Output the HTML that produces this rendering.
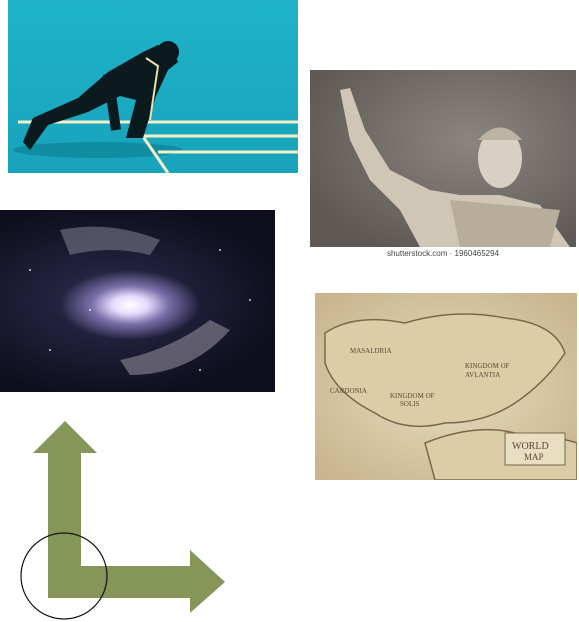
<!DOCTYPE html>
<html><head><meta charset="utf-8"><style>
html,body{margin:0;padding:0;background:#fff;width:579px;height:622px;overflow:hidden;position:relative;font-family:"Liberation Sans",sans-serif}
.abs{position:absolute}
</style></head><body>

<div class="abs" style="left:8px;top:0;width:290px;height:173px;background:linear-gradient(180deg,#1fb3c9,#17a3bb);overflow:hidden">
<svg width="290" height="173" viewBox="0 0 290 173">
<ellipse cx="90" cy="150" rx="85" ry="8" fill="#0c7d8f" opacity=".6"/>
<path d="M10 122 H290 M120 136 H290 M150 152 H290" stroke="#f4f1c8" stroke-width="3"/>
<path d="M125 122 L160 173" stroke="#f4f1c8" stroke-width="3"/>
<path d="M150 45 L165 48 L170 62 L160 70 L148 96 L135 138 L118 138 L128 100 L112 96 L80 112 L40 125 L22 150 L15 142 L25 118 L70 98 L100 72 L135 52 Z" fill="#0b1a1f"/>
<circle cx="160" cy="52" r="11" fill="#0b1a1f"/>
<path d="M100 74 L108 130" stroke="#0b1a1f" stroke-width="10"/>
<path d="M138 58 L150 66 L142 120" stroke="#e8e2a8" stroke-width="2" fill="none"/>
</svg></div>

<div class="abs" style="left:310px;top:70px;width:266px;height:177px;background:radial-gradient(ellipse at 60% 40%,#8b8580,#5e5954 80%);overflow:hidden">
<svg width="266" height="177" viewBox="0 0 266 177">
<path d="M30 20 L40 18 L55 60 L80 100 L120 120 L150 125 L190 125 L230 135 L260 177 L110 177 L90 140 L60 110 L40 70 Z" fill="#cfc6b6"/>
<ellipse cx="190" cy="88" rx="22" ry="30" fill="#d8d0c2"/>
<path d="M168 70 Q190 45 212 70" fill="#bdb3a2"/>
<path d="M140 130 L250 140 L240 177 L150 177 Z" fill="#b8ad9a"/>
</svg></div>
<div class="abs" style="left:310px;top:249px;width:266px;text-align:center;font-size:8px;color:#444">shutterstock.com · 1960465294</div>

<div class="abs" style="left:0;top:210px;width:275px;height:182px;background:radial-gradient(ellipse 70px 35px at 130px 95px,#fff 0%,#e6dcff 25%,#7a6fa8 55%,rgba(40,40,80,0) 100%),radial-gradient(ellipse at 40% 50%,#2d2c4f,#0e0e1d 75%);overflow:hidden">
<svg width="275" height="182" viewBox="0 0 275 182">
<path d="M60 20 Q110 10 160 30 L150 45 Q110 35 70 45 Z" fill="#6b6a7e" opacity=".7"/>
<path d="M120 150 Q170 140 210 110 L230 120 Q190 165 130 165 Z" fill="#7d7a88" opacity=".7"/>
<g fill="#fff" opacity=".8"><circle cx="30" cy="60" r="1"/><circle cx="220" cy="40" r="1"/><circle cx="250" cy="90" r="1"/><circle cx="50" cy="140" r="1"/><circle cx="200" cy="160" r="1"/><circle cx="90" cy="100" r="1"/></g>
</svg></div>

<div class="abs" style="left:315px;top:293px;width:262px;height:187px;background:radial-gradient(ellipse at 50% 50%,#e8dcc0,#c9b68f 90%);overflow:hidden">
<svg width="262" height="187" viewBox="0 0 262 187">
<path d="M10 40 Q40 20 90 30 Q140 15 190 25 Q240 30 250 60 Q230 90 200 110 Q170 130 130 130 Q90 140 60 120 Q20 100 10 70 Z" fill="#ddcda6" stroke="#7b6848" stroke-width="1.5"/>
<path d="M110 150 Q160 130 200 140 Q250 145 262 150 L262 187 L120 187 Z" fill="#ddcda6" stroke="#7b6848" stroke-width="1.5"/>
<g fill="#5a4832" font-family="Liberation Serif,serif" font-size="7">
<text x="150" y="75">KINGDOM OF</text><text x="150" y="84">AVLANTIA</text>
<text x="75" y="105">KINGDOM OF</text><text x="85" y="113">SOLIS</text>
<text x="35" y="60">MASALDRIA</text><text x="15" y="100">CARDONIA</text>
</g>
<rect x="190" y="140" width="60" height="32" fill="#e9ddc2" stroke="#7b6848"/>
<text x="197" y="156" font-family="Liberation Serif,serif" font-size="10" fill="#5a4832">WORLD</text>
<text x="209" y="167" font-family="Liberation Serif,serif" font-size="9" fill="#5a4832">MAP</text>
</svg></div>

<svg class="abs" style="left:0;top:0" width="579" height="622">
<path d="M65 421 L97 453 L81 453 L81 566 L190 566 L190 550 L225 582 L190 613 L190 598 L48 598 L48 453 L33 453 Z" fill="#859658"/>
<circle cx="64" cy="576" r="43" fill="none" stroke="#111" stroke-width="1.2"/>
</svg>
</body></html>
